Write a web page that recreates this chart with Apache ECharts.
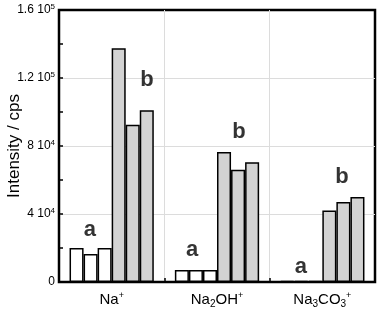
<!DOCTYPE html>
<html><head><meta charset="utf-8">
<script src="https://cdn.jsdelivr.net/npm/echarts@6/dist/echarts.min.js"></script>
<style>html,body{margin:0;padding:0;background:#fff}#c{width:378px;height:317px}</style>
</head><body><div id="c"></div>
<script>
const categories = ['Na+', 'Na2OH+', 'Na3CO3+'];
const categoryLabels = ['Na{sup|+}', 'Na{sub|2}OH{sup|+}', 'Na{sub|3}CO{sub|3}{sup|+}'];
// condition a (white bars), three replicates per ion
const a1 = [20000, 7000, 700];
const a2 = [16500, 7000, 700];
const a3 = [20000, 7000, 700];
// condition b (grey bars)
const b1 = [137500, 76500, 42000];
const b2 = [92500, 66000, 47000];
const b3 = [101000, 70500, 50000];
const yTicks = [0, 40000, 80000, 120000, 160000];
const yTickLabels = ['0', '4 10{sup|4}', '8 10{sup|4}', '1.2 10{sup|5}', '1.6 10{sup|5}'];
// letter annotations [x position in category units, y value, text]
const annotations = [
  [0.294, 30600, 'a'], [0.835, 118800, 'b'],
  [1.263, 18800, 'a'], [1.709, 88200, 'b'],
  [2.297, 8800, 'a'], [2.687, 61700, 'b']
];

const chart = echarts.init(document.getElementById('c'));
const font = 'Liberation Sans, Arial, sans-serif';
function bar(data, fill) {
  return {
    type: 'bar', data: data, barGap: '0%', barCategoryGap: '20%',
    itemStyle: { color: fill, borderColor: '#000', borderWidth: 1.5 },
    silent: true, animation: false
  };
}
chart.setOption({
  animation: false,
  textStyle: { fontFamily: font },
  grid: { left: 59, right: 3, top: 10, bottom: 35, containLabel: false, outerBoundsMode: 'none',
          show: true, borderColor: '#000', borderWidth: 2.5, backgroundColor: 'transparent' },
  xAxis: [{
    type: 'category', data: categories, boundaryGap: true,
    axisLine: { lineStyle: { color: '#000', width: 2 } },
    axisTick: { show: false },
    splitLine: { show: false },
    axisLabel: {
      interval: 0, margin: 9, color: '#000', fontSize: 15, fontFamily: font,
      formatter: function (v, i) { return categoryLabels[i]; },
      rich: {
        sup: { fontSize: 9, verticalAlign: 'top', padding: [0, 0, 8, 0], color: '#000', fontFamily: font },
        sub: { fontSize: 10, verticalAlign: 'bottom', padding: [8, 0, 0, 0], color: '#000', fontFamily: font }
      }
    }
  }, {
    type: 'value', min: 0, max: 3, interval: 1, position: 'bottom',
    axisLine: { show: false },
    axisLabel: { show: false },
    axisTick: { show: true, inside: true, length: 4, lineStyle: { color: '#000', width: 1.5 } },
    splitLine: { show: true, showMinLine: false, showMaxLine: false, lineStyle: { color: '#dcdcdc', width: 1 } }
  }],
  yAxis: {
    type: 'value', min: 0, max: 160000, interval: 40000,
    name: 'Intensity / cps', nameLocation: 'middle', nameGap: 36, nameMoveOverlap: false,
    nameTextStyle: { fontSize: 17, color: '#000', fontFamily: font },
    axisLine: { show: true, lineStyle: { color: '#000', width: 2 } },
    axisTick: { show: true, inside: true, length: 4, lineStyle: { color: '#000', width: 1.5 } },
    minorTick: { show: true, splitNumber: 2, length: 4, lineStyle: { color: '#000', width: 1.5 } },
    splitLine: { show: true, showMinLine: false, showMaxLine: false, lineStyle: { color: '#dcdcdc', width: 1 } },
    axisLabel: {
      margin: 4, color: '#000', fontSize: 12, fontFamily: font,
      formatter: function (v) { const i = yTicks.indexOf(v); return i >= 0 ? yTickLabels[i] : ''; },
      rich: { sup: { fontSize: 8, verticalAlign: 'top', padding: [0, 0, 7, 0], color: '#000', fontFamily: font } }
    }
  },
  series: [
    bar(a1, '#ffffff'), bar(a2, '#ffffff'), bar(a3, '#ffffff'),
    bar(b1, '#d3d3d3'), bar(b2, '#d3d3d3'), bar(b3, '#d3d3d3'),
    {
      type: 'scatter', xAxisIndex: 1, symbolSize: 0, silent: true,
      data: annotations.map(function (d) { return { value: [d[0], d[1]], name: d[2] }; }),
      label: { show: true, position: 'inside', formatter: '{b}', fontSize: 22, fontWeight: 'bold', color: '#000', fontFamily: font }
    }
  ]
});
</script></body></html>
